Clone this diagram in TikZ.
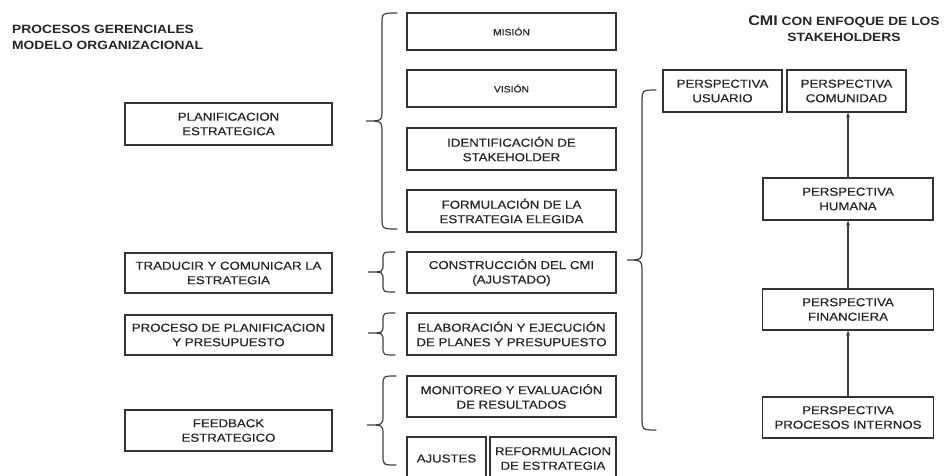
\documentclass[tikz,border=0pt]{standalone}
\usepackage{fontspec}
\setmainfont{Liberation Sans}[FakeStretch=1.15]
\newfontfamily\boxfont{Liberation Sans}[FakeStretch=1.15, FakeBold=0.6]
\usetikzlibrary{arrows.meta}

% curly brace opening to the right: end x, spine x, tip x, top y, tip y, bottom y, curl radius
\newcommand{\drawbrace}[7]{%
  \draw[bracestyle] (#1,#4) .. controls (#2,#4) .. (#2,#4+#7)
    -- (#2,#5-#7) .. controls (#2,#5) .. (#3,#5)
    .. controls (#2,#5) .. (#2,#5+#7)
    -- (#2,#6-#7) .. controls (#2,#6) .. (#1,#6);}

\tikzset{
  box/.style={draw=black!80, line width=1.3pt, rectangle, inner sep=0pt,
    align=center, font=\boxfont\fontsize{11.5}{14.5}\selectfont, text=black!85},
  smallbox/.style={box, font=\boxfont\fontsize{9}{12}\selectfont},
  title/.style={font=\fontsize{12}{16}\selectfont\bfseries, text=black!85, inner sep=0pt},
  bracestyle/.style={draw=black!75, line width=1.2pt, line cap=round},
  arr/.style={draw=black!75, line width=1.4pt, -{Stealth[length=5pt,width=4pt]}}
}

\begin{document}
\begin{tikzpicture}[x=1pt, y=-1pt]
\useasboundingbox[fill=white] (0,0) rectangle (952,476);

% headings
\node[title, anchor=west, align=left] (hleft) at (12,37)
  {PROCESOS GERENCIALES\\MODELO ORGANIZACIONAL};
\node[title, align=center] (hright) at (844,29)
  {{\fontsize{14}{16}\selectfont CMI} CON ENFOQUE DE LOS\\STAKEHOLDERS};

% management processes
\node[box, minimum width=207pt, minimum height=42pt] (plan) at (228.5,124) {PLANIFICACION\\ESTRATEGICA};
\node[box, minimum width=207pt, minimum height=40pt] (trad) at (228.5,273) {TRADUCIR Y COMUNICAR LA\\ESTRATEGIA};
\node[box, minimum width=207pt, minimum height=40pt] (proc) at (228.5,335) {PROCESO DE PLANIFICACION\\Y PRESUPUESTO};
\node[box, minimum width=207pt, minimum height=41pt] (feed) at (228.5,430.5) {FEEDBACK\\ESTRATEGICO};

% organisational model
\node[smallbox, minimum width=209pt, minimum height=37pt] (mision) at (511.5,31.5) {MISIÓN};
\node[smallbox, minimum width=209pt, minimum height=37pt] (vision) at (511.5,88.5) {VISIÓN};
\node[box, minimum width=209pt, minimum height=42pt] (ident) at (511.5,149) {IDENTIFICACIÓN DE\\STAKEHOLDER};
\node[box, minimum width=209pt, minimum height=42pt] (form) at (511.5,211) {FORMULACIÓN DE LA\\ESTRATEGIA ELEGIDA};
\node[box, minimum width=209pt, minimum height=41pt] (cons) at (511.5,272.5) {CONSTRUCCIÓN DEL CMI\\(AJUSTADO)};
\node[box, minimum width=209pt, minimum height=42pt] (elab) at (511.5,334) {ELABORACIÓN Y EJECUCIÓN\\DE PLANES Y PRESUPUESTO};
\node[box, minimum width=209pt, minimum height=41pt] (moni) at (511.5,396.5) {MONITOREO Y EVALUACIÓN\\DE RESULTADOS};
\node[box, minimum width=79pt, minimum height=43pt] (ajus) at (446.5,458.5) {AJUSTES};
\node[box, minimum width=126pt, minimum height=43pt] (refo) at (553,458.5) {REFORMULACION\\DE ESTRATEGIA};

% balanced scorecard perspectives
\node[box, minimum width=119pt, minimum height=42pt] (usu) at (722.5,91) {PERSPECTIVA\\USUARIO};
\node[box, minimum width=119pt, minimum height=42pt] (com) at (846.5,91) {PERSPECTIVA\\COMUNIDAD};
\node[box, minimum width=170pt, minimum height=42pt] (hum) at (848,199) {PERSPECTIVA\\HUMANA};
\node[box, minimum width=171pt, minimum height=41pt] (fin) at (848,309.5) {PERSPECTIVA\\FINANCIERA};
\node[box, minimum width=171pt, minimum height=41pt] (pint) at (848,417.5) {PERSPECTIVA\\PROCESOS INTERNOS};

\draw[arr] (pint.north) -- (pint.north |- fin.south);
\draw[arr] (fin.north) -- (fin.north |- hum.south);
\draw[arr] (hum.north) -- (hum.north |- com.south);

% braces
\drawbrace{397}{382}{366}{13}{121}{229}{12}
\drawbrace{395}{383}{368}{252}{272}{292}{8}
\drawbrace{395}{383}{368}{313}{333}{355}{8}
\drawbrace{396}{383}{367}{376}{425}{465}{10}
\drawbrace{656}{642}{627}{90}{260}{430}{14}
\end{tikzpicture}
\end{document}
